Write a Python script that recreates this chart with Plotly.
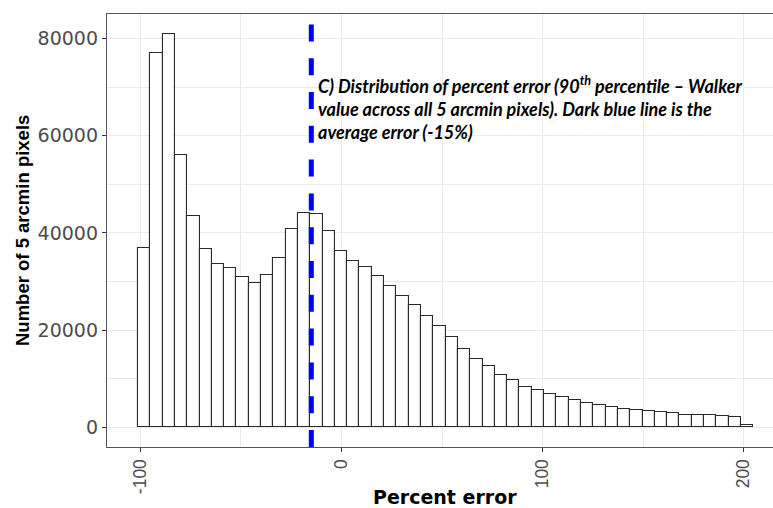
import plotly.graph_objects as go

# Histogram of percent error (bin counts per 6.12-unit bin, starting at -101.2)
bin_start = -101.2
bin_width = 6.12
counts = [
    37000, 77000, 81000, 56100, 43400, 36700, 33600, 32700, 31000, 29700,
    31300, 34900, 40800, 44100, 43800, 40300, 36300, 34200, 32950, 31200,
    29050, 27000, 25100, 22950, 20750, 18500, 16100, 14000, 12550, 10700,
    9700, 8400, 7750, 6800, 6150, 5550, 5000, 4500, 4250, 3700,
    3500, 3300, 3150, 3000, 2600, 2550, 2550, 2400, 2050, 400,
]
mean_error = -15

x_ticks = [-100, 0, 100, 200]
y_ticks = [0, 20000, 40000, 60000, 80000]

centers = [bin_start + bin_width * (i + 0.5) for i in range(len(counts))]

W, H = 773, 508
L, R, T, B = 107, 0, 14, 61
pw, ph = W - L - R, H - T - B

fig = go.Figure()
fig.add_trace(go.Bar(
    x=centers, y=counts, width=bin_width,
    marker=dict(color="white", line=dict(color="#2a2a2a", width=1.1)),
    hoverinfo="x+y",
))

fig.add_shape(type="line", xref="x", yref="paper", x0=mean_error, x1=mean_error,
              y0=0, y1=1, line=dict(color="#0000FF", width=5, dash="17px,16.8px"),
              layer="above")

grid = "#EBEBEB"
fig.update_layout(
    width=W, height=H,
    margin=dict(l=L, r=R, t=T, b=B),
    paper_bgcolor="white", plot_bgcolor="white",
    showlegend=False,
    bargap=0,
    xaxis=dict(
        range=[-116.6, 214.6], tickvals=x_ticks, ticktext=[str(v) for v in x_ticks],
        tickangle=-90, ticks="outside", ticklen=4, tickcolor="#333333",
        tickfont=dict(family="Liberation Sans", size=17.5, color="#4D4D4D"),
        showgrid=True, gridcolor=grid, gridwidth=1.1,
        minor=dict(dtick=50, tick0=0, showgrid=True, gridcolor=grid, gridwidth=0.6),
        showline=True, linecolor="#555555", linewidth=1.3, mirror=True,
        zeroline=False,
    ),
    yaxis=dict(
        range=[-4050, 85050], tickvals=y_ticks, ticktext=[str(v) for v in y_ticks],
        ticks="outside", ticklen=4, tickcolor="#333333",
        tickfont=dict(family="DejaVu Sans", size=19, color="#4D4D4D"),
        showgrid=True, gridcolor=grid, gridwidth=1.1,
        minor=dict(dtick=10000, tick0=0, showgrid=True, gridcolor=grid, gridwidth=0.6),
        showline=True, linecolor="#555555", linewidth=1.3, mirror=False,
        zeroline=False,
    ),
)

# Axis titles
fig.add_annotation(
    text="Number of 5 arcmin pixels", textangle=-90,
    xref="paper", yref="paper", x=(22.5 - L) / pw, y=0.5,
    xanchor="center", yanchor="middle", showarrow=False,
    font=dict(family="Liberation Sans", size=18.5, color="black", weight="bold"),
)
fig.add_annotation(
    text="Percent error",
    xref="paper", yref="paper", x=(445.5 - L) / pw, y=(T + ph - 497) / ph,
    xanchor="center", yanchor="middle", showarrow=False,
    font=dict(family="DejaVu Sans", size=19, color="black", weight="bold"),
)

# Explanatory note next to the mean line
fig.add_annotation(
    text=("C) Distribution of percent error (90<sup>th</sup> percentile \u2013 Walker<br>"
          "value across all 5 arcmin pixels). Dark blue line is the<br>"
          "average error (-15%)"),
    xref="x", yref="y", x=-12.8, y=73300,
    xanchor="left", yanchor="top", align="left", showarrow=False,
    font=dict(family="Lato", size=18, color="black", weight="bold", style="italic"),
)

fig.write_html("out.html")
